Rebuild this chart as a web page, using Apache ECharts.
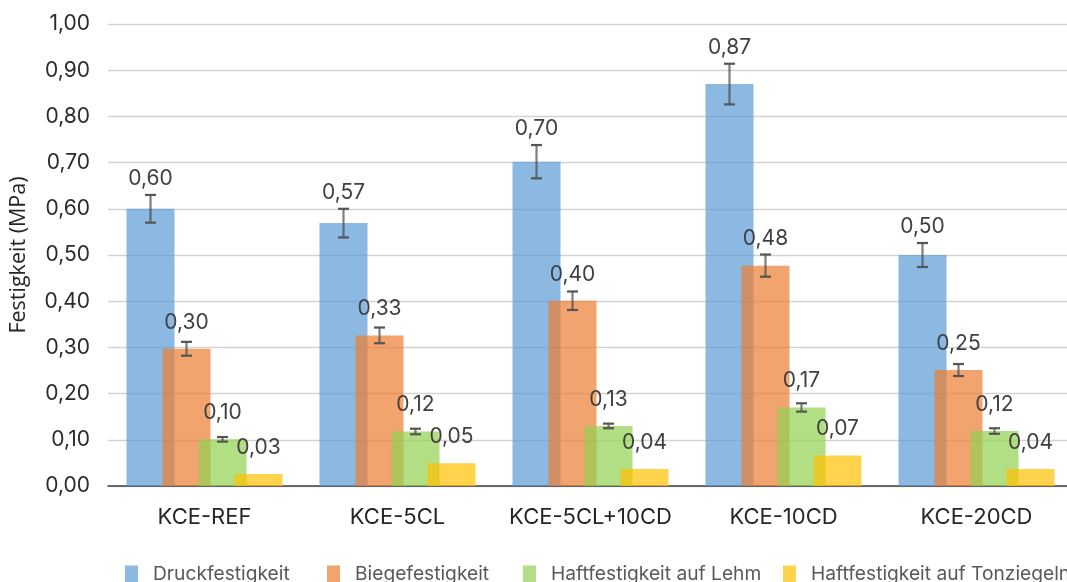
<!DOCTYPE html>
<html>
<head>
<meta charset="utf-8">
<script src="https://cdn.jsdelivr.net/npm/echarts@6/dist/echarts.min.js"></script>
<style>
html,body{margin:0;padding:0;background:#fff;}
#chart{width:1067px;height:582px;}
</style>
</head>
<body>
<div id="chart"></div>
<script>
// ---- data ----
var categories = ['KCE-REF', 'KCE-5CL', 'KCE-5CL+10CD', 'KCE-10CD', 'KCE-20CD'];
var seriesNames = ['Druckfestigkeit', 'Biegefestigkeit', 'Haftfestigkeit auf Lehm', 'Haftfestigkeit auf Tonziegeln'];
var druck = [0.600, 0.569, 0.702, 0.870, 0.500];
var biege = [0.297, 0.326, 0.401, 0.477, 0.251];
var haftLehm = [0.101, 0.118, 0.130, 0.170, 0.119];
var haftTon = [0.026, 0.049, 0.037, 0.066, 0.037];
var errDruck = [0.030, 0.031, 0.036, 0.044, 0.026];
var errBiege = [0.015, 0.017, 0.020, 0.024, 0.013];
var errLehm = [0.005, 0.006, 0.005, 0.009, 0.006];
var yTicks = [0, 0.1, 0.2, 0.3, 0.4, 0.5, 0.6, 0.7, 0.8, 0.9, 1.0];

// ---- styling / layout ----
var colors = ['rgba(91,155,213,0.7)', 'rgba(237,125,49,0.7)', 'rgba(146,208,80,0.7)', 'rgba(255,192,0,0.7)'];
var legendColors = ['#8CB9E2', '#F2A46F', '#B3DE85', '#FFD34D'];
var BAR_W = 48, BAR_GAP = -12;
var GRID_TOP = 24, GRID_BOTTOM = 96, CHART_H = 582;
var PLOT_H = CHART_H - GRID_TOP - GRID_BOTTOM;
var FONT = 'Inter';
function fmt(v){ return v.toFixed(2).replace('.', ','); }

var valueSets = [druck, biege, haftLehm, haftTon];
var errSets = [errDruck, errBiege, errLehm];

function offsetFor(i){
  var n = 4;
  var total = n * BAR_W + (n - 1) * BAR_GAP;
  return -total / 2 + BAR_W / 2 + i * (BAR_W + BAR_GAP);
}

var series = [];
valueSets.forEach(function(vals, i){
  var data = vals.map(function(v, k){
    if (i === 0) {
      // the first series' labels sit above its error bars
      var yMax = yTicks[yTicks.length - 1] - yTicks[0];
      return { value: v, label: { distance: errDruck[k] / yMax * PLOT_H + 6 } };
    }
    return v;
  });
  series.push({
    name: seriesNames[i],
    type: 'bar',
    data: data,
    barWidth: BAR_W,
    barGap: (BAR_GAP / BAR_W * 100) + '%',
    itemStyle: { color: colors[i] },
    z: 2,
    label: {
      show: true,
      position: 'top',
      distance: 16,
      formatter: function(p){ return fmt(p.value); },
      fontFamily: FONT,
      fontSize: 21,
      color: '#404040'
    }
  });
});

errSets.forEach(function(errs, i){
  var data = errs.map(function(e, k){ return [k, valueSets[i][k] - e, valueSets[i][k] + e]; });
  series.push({
    type: 'custom',
    name: seriesNames[i] + ' err',
    z: 5,
    silent: true,
    encode: { x: 0, y: [1, 2] },
    data: data,
    renderItem: function(params, api){
      var xi = api.value(0);
      var lo = api.coord([xi, api.value(1)]);
      var hi = api.coord([xi, api.value(2)]);
      var x = lo[0] + offsetFor(i);
      var cap = 5.5;
      return {
        type: 'group',
        children: [
          { type: 'line', shape: { x1: x, y1: hi[1], x2: x, y2: lo[1] }, style: { stroke: 'rgba(70,70,70,0.7)', lineWidth: 2.2 } },
          { type: 'line', shape: { x1: x - cap, y1: hi[1], x2: x + cap, y2: hi[1] }, style: { stroke: '#555555', lineWidth: 2.2 } },
          { type: 'line', shape: { x1: x - cap, y1: lo[1], x2: x + cap, y2: lo[1] }, style: { stroke: '#555555', lineWidth: 2.2 } }
        ]
      };
    }
  });
});

var legendLefts = [125, 327, 523, 783];
var legends = seriesNames.map(function(n, i){
  return {
    left: legendLefts[i],
    top: 565,
    padding: 0,
    data: [{ name: n, itemStyle: { color: legendColors[i] } }],
    icon: 'rect',
    itemWidth: 13,
    itemHeight: 18,
    itemGap: 0,
    selectedMode: false,
    textStyle: { fontFamily: FONT, fontSize: 19.2, color: '#595959', padding: [0, 0, 0, 10] }
  };
});

var chart = echarts.init(document.getElementById('chart'), null, { renderer: 'canvas' });
chart.setOption({
  animation: false,
  backgroundColor: '#ffffff',
  legend: legends,
  grid: { left: 108, right: -6, top: GRID_TOP, bottom: GRID_BOTTOM, containLabel: false, outerBoundsMode: 'none' },
  xAxis: {
    type: 'category',
    data: categories,
    axisTick: { show: false },
    axisLine: { show: true, lineStyle: { color: '#404040', width: 1.5 } },
    axisLabel: { interval: 0, margin: 20, fontFamily: FONT, fontSize: 22, color: '#262626' }
  },
  yAxis: {
    type: 'value',
    min: yTicks[0],
    max: yTicks[yTicks.length - 1],
    interval: 0.1,
    name: 'Festigkeit (MPa)',
    nameLocation: 'middle',
    nameGap: 78,
    nameRotate: 90,
    nameTextStyle: { fontFamily: 'Open Sans', fontSize: 21.5, color: '#262626' },
    axisLine: { show: false },
    axisTick: { show: false },
    splitLine: { lineStyle: { color: '#D3D3D3', width: 1.3 } },
    axisLabel: { margin: 18, fontFamily: FONT, fontSize: 21, color: '#2b2b2b', formatter: function(v){ return fmt(v); } }
  },
  series: series
});
</script>
</body>
</html>
